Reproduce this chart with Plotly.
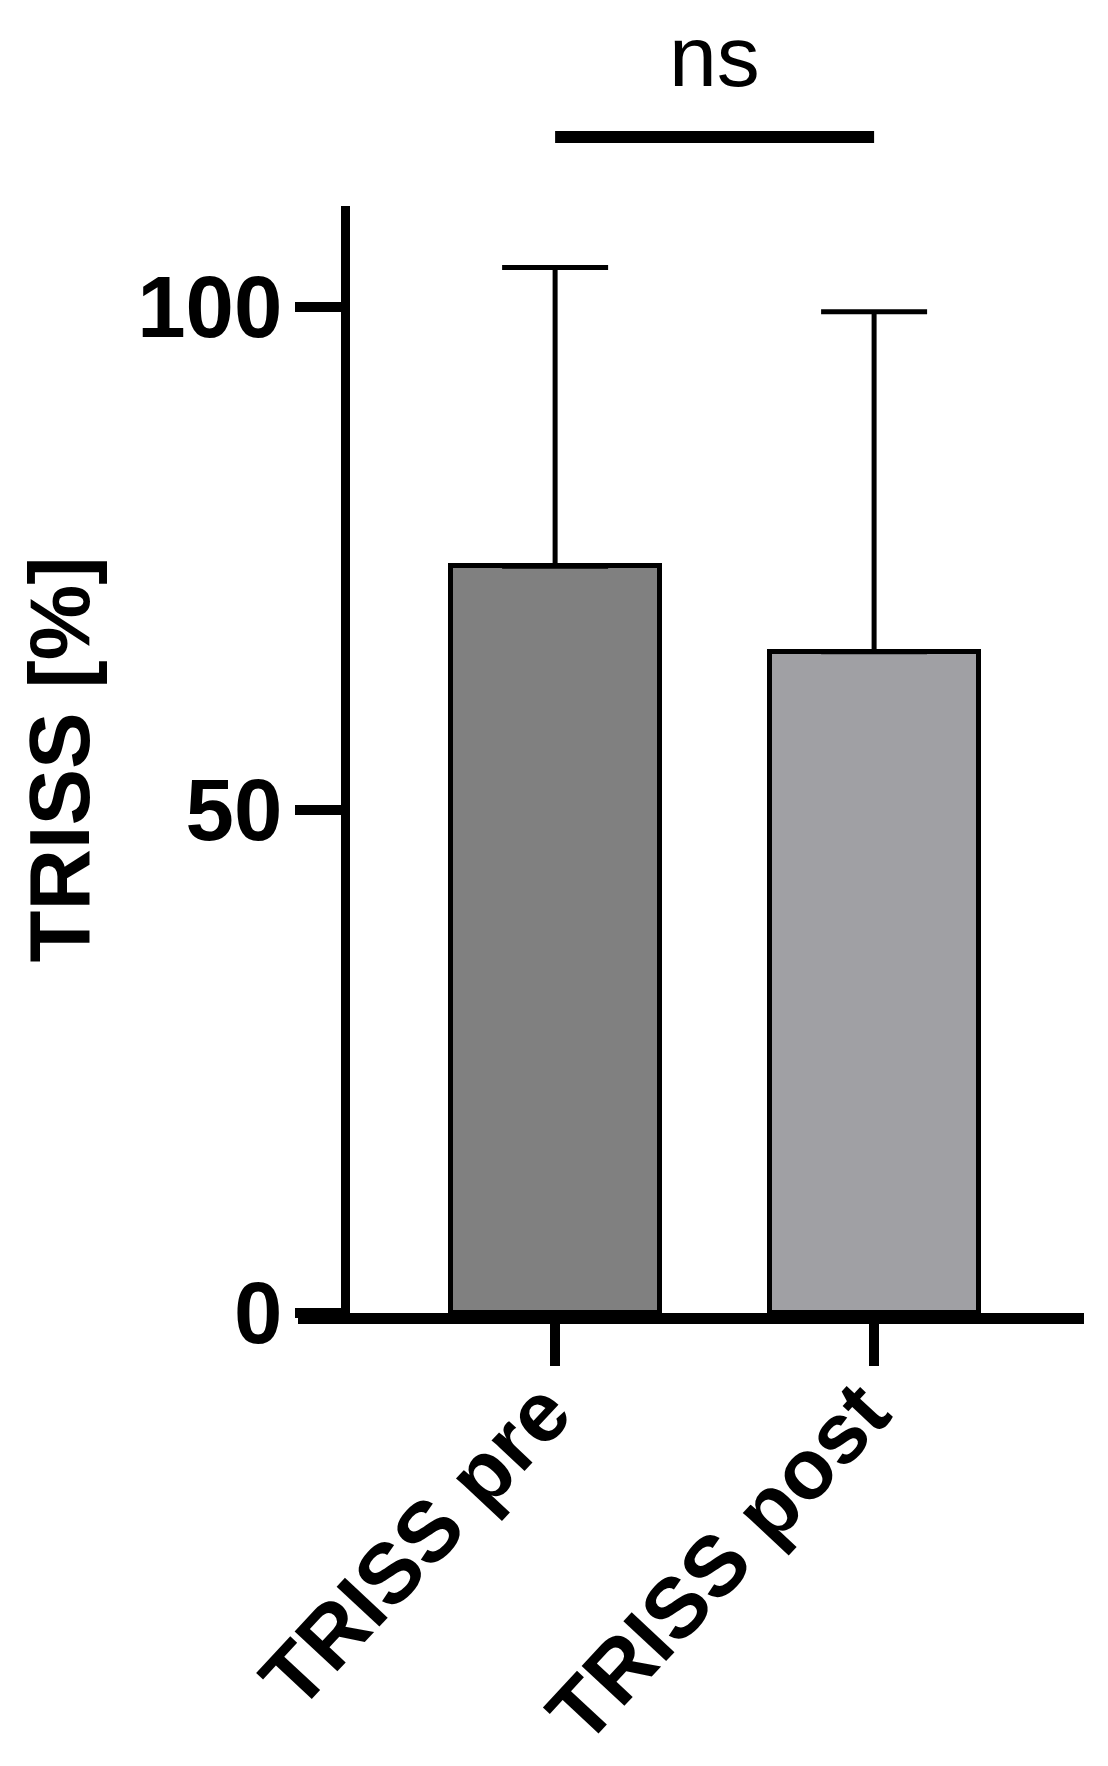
import plotly.graph_objects as go

categories = ["TRISS pre", "TRISS post"]
means = [74.2, 65.7]
sds = [29.7, 33.8]
bar_colors = ["#808080", "#a0a0a4"]
y_tickvals = [0, 50, 100]
y_title = "TRISS [%]"
sig_label = "ns"

FONT = "Liberation Sans, Arial, sans-serif"

fig = go.Figure()
fig.add_trace(go.Bar(
    x=categories, y=means,
    width=0.655,
    marker=dict(color=bar_colors, line=dict(color="black", width=5)),
    error_y=dict(type="data", symmetric=False, array=sds, arrayminus=[0, 0],
                 color="black", thickness=5, width=53),
    showlegend=False,
))

W, H = 1108, 1766
L, R, T, B = 290, 32, 198, 461
fig.update_layout(
    width=W, height=H,
    margin=dict(l=L, r=R, t=T, b=B, autoexpand=False),
    plot_bgcolor="white", paper_bgcolor="white",
    bargap=0,
    font=dict(family=FONT, color="black"),
)
fig.update_xaxes(
    type="category", range=[-0.806, 1.658],
    showline=True, linecolor="black", linewidth=11,
    ticks="outside", ticklen=42, tickwidth=10, tickcolor="black",
    tickangle=-47,
    ticklabelstandoff=-38, ticklabelshift=-11,
    tickfont=dict(size=85, family=FONT, weight="bold"),
    showgrid=False, zeroline=False,
)
fig.update_yaxes(
    range=[0, 110], anchor="free", position=0.0595,
    tickvals=y_tickvals,
    showline=True, linecolor="black", linewidth=9,
    ticks="outside", ticklen=46, tickwidth=10, tickcolor="black",
    ticklabelstandoff=-5,
    tickfont=dict(size=87, family=FONT, weight="bold"),
    showgrid=False, zeroline=False,
)
fig.add_annotation(
    text=y_title, xref="paper", yref="paper", x=-0.3028, y=0.50,
    textangle=-90, showarrow=False, xanchor="center", yanchor="middle",
    font=dict(size=85, family=FONT, weight="bold"),
)
fig.add_shape(type="line", xref="x", yref="paper",
              x0=categories[0], x1=categories[1], y0=1.0623, y1=1.0623,
              line=dict(color="black", width=12))
fig.add_annotation(
    text=sig_label, xref="paper", yref="paper",
    x=(0.806 + 0.5) / 2.464, y=1.090, showarrow=False,
    xanchor="center", yanchor="bottom",
    font=dict(size=86, family=FONT),
)
fig.write_html("out.html")
